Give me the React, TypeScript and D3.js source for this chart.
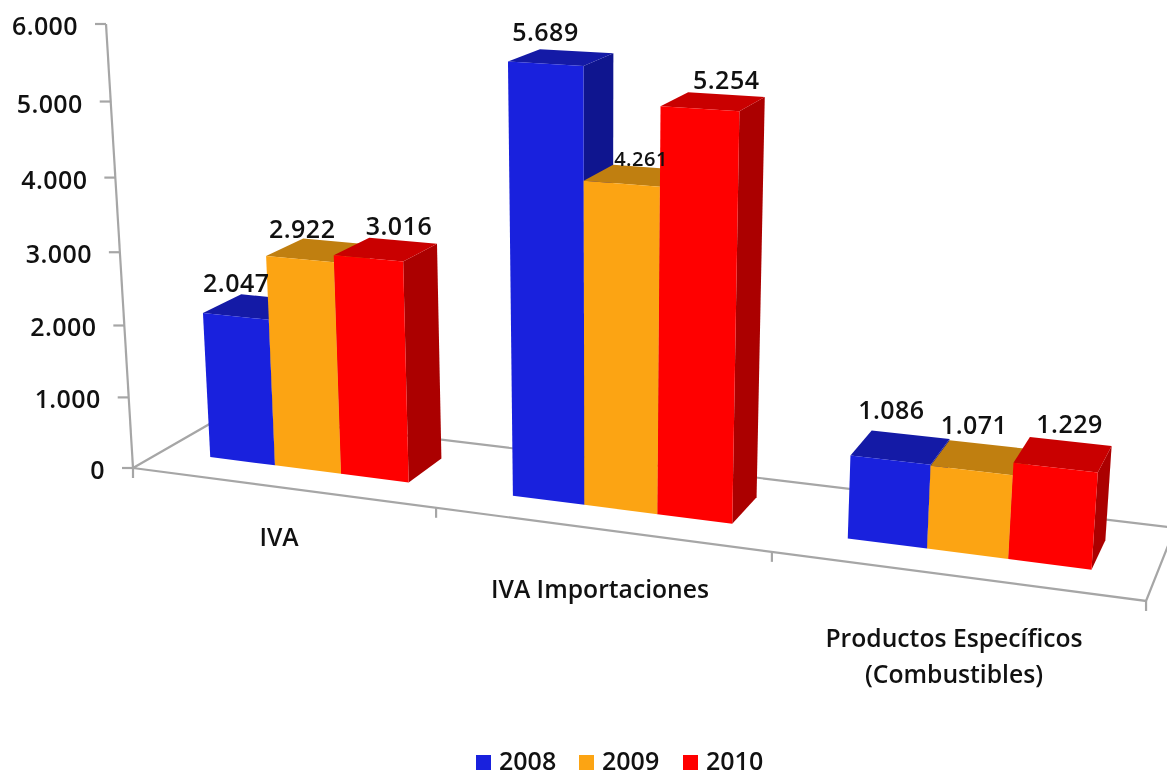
import React from "react";
import * as d3 from "d3";

const categories = [["IVA"], ["IVA Importaciones"], ["Productos Específicos", "(Combustibles)"]];
const years = ["2008", "2009", "2010"];
const values2008 = [2047, 5689, 1086];
const values2009 = [2922, 4261, 1071];
const values2010 = [3016, 5254, 1229];
const yTicks = [0, 1000, 2000, 3000, 4000, 5000, 6000];

const seriesValues = [values2008, values2009, values2010];
const fmt = (v: number) => d3.format(",.0f")(v).replace(/,/g, ".");

// colours: front, top, side
const colors = [
  { front: "#1921DD", top: "#141AA6", side: "#0F158F" },
  { front: "#FCA413", top: "#C07F10", side: "#A86F0D" },
  { front: "#FF0000", top: "#C90000", side: "#AB0000" },
];

// floor homography and vertical vanishing point: world (x 0-1, v value, z 0-1) -> screen
const yHeight = d3.scaleLinear().domain([0, 6000]).range([0, -0.05464]);
function project(x: number, v: number, z: number): [number, number] {
  const t = yHeight(v);
  const w = 1 - 0.1462 * x + 0.07304 * z + t;
  const u = 845.5 * x + 110.6 * z + 133 + t * 600;
  const q = 45.1 * x - 23.8 * z + 468 + t * 8150;
  return [u / w, q / w];
}
const line = d3.line();
const poly = (pts: [number, number][]) => line(pts)! + "Z";

const xGroup = d3.scaleBand<number>().domain([0, 1, 2]).range([0, 1]).paddingInner(1 / 3).paddingOuter(1 / 6);
const xBar = d3.scaleBand<number>().domain([0, 1, 2]).range([0, xGroup.bandwidth()]);
const Z0 = 0.3;
const Z1 = 0.71;

// per-label nudges from the top-back centre of the bar [series][category]
const labelNudge = [
  [[-37, -5], [-31, -10], [-19, -16]],
  [[-34, -4], [-9, -1], [-15, -11]],
  [[-4, -6], [0, -6], [-1, -8]],
];

const font = "'Open Sans', 'Noto Sans', sans-serif";
const textColor = "#111";
const axisColor = "#A6A6A6";

export default function App() {
  const legendX = [476, 579, 683];
  return (
    <svg width={1167} height={772} style={{ position: "absolute", left: 0, top: 0, background: "#fff", filter: "blur(0.45px)" }}>
      {/* floor */}
      <g fill="none" stroke={axisColor} strokeWidth={2.2}>
        <path d={line([project(0, 0, 0), project(1, 0, 0), project(1, 0, 1), project(0, 0, 1), project(0, 0, 0)])!} />
        <path d={line([project(0, 0, 0), project(0, 6000, 0)])!} />
        {yTicks.map((t) => {
          const [x, y] = project(0, t, 0);
          return <path key={t} d={line([[x - 11, y], [x, y]])!} />;
        })}
        {[0, 1 / 3, 2 / 3, 1].map((f) => {
          const [x, y] = project(f, 0, 0);
          return <path key={f} d={line([[x, y], [x, y + 10]])!} />;
        })}
      </g>
      {/* y tick labels */}
      <g fontFamily={font} fontSize={25} fontWeight={600} fill={textColor} textAnchor="end" letterSpacing={0.4}>
        {yTicks.map((t) => {
          const [x, y] = project(0, t, 0);
          return (
            <text key={t} x={x - 28} y={y + 11}>
              {fmt(t)}
            </text>
          );
        })}
      </g>
      {/* bars */}
      {categories.map((_, c) =>
        years.map((yr, s) => {
          const v = seriesValues[s][c];
          const x0 = xGroup(c)! + xBar(s)!;
          const x1 = x0 + xBar.bandwidth();
          const col = colors[s];
          return (
            <g key={yr + c}>
              <path d={poly([project(x1, 0, Z0), project(x1, 0, Z1), project(x1, v, Z1), project(x1, v, Z0)])} fill={col.side} />
              <path d={poly([project(x0, v, Z0), project(x1, v, Z0), project(x1, v, Z1), project(x0, v, Z1)])} fill={col.top} />
              <path d={poly([project(x0, 0, Z0), project(x1, 0, Z0), project(x1, v, Z0), project(x0, v, Z0)])} fill={col.front} />
            </g>
          );
        })
      )}
      {/* data labels */}
      <g fontFamily={font} fontWeight={600} fill={textColor} textAnchor="middle">
        {categories.map((_, c) =>
          years.map((yr, s) => {
            const v = seriesValues[s][c];
            const xm = xGroup(c)! + xBar(s)! + xBar.bandwidth() / 2;
            const [x, y] = project(xm, v, Z1);
            const [dx, dy] = labelNudge[s][c];
            const small = v === 4261;
            return (
              <text key={yr + c} x={x + dx} y={y + dy} fontSize={small ? 20 : 25} letterSpacing={0.5}>
                {fmt(v)}
              </text>
            );
          })
        )}
      </g>
      {/* category labels */}
      <g fontFamily={font} fontWeight={600} fontSize={24.7} fill={textColor} textAnchor="middle">
        <text x={279} y={546}>{categories[0][0]}</text>
        <text x={600} y={598}>{categories[1][0]}</text>
        <text x={954} y={647}>{categories[2][0]}</text>
        <text x={954} y={683}>{categories[2][1]}</text>
      </g>
      {/* legend */}
      {years.map((yr, s) => (
        <g key={yr}>
          <rect x={legendX[s]} y={755} width={15} height={15} fill={colors[s].front} />
          <text x={legendX[s] + 23} y={770} fontFamily={font} fontWeight={600} fontSize={25} fill={textColor}>
            {yr}
          </text>
        </g>
      ))}
    </svg>
  );
}
